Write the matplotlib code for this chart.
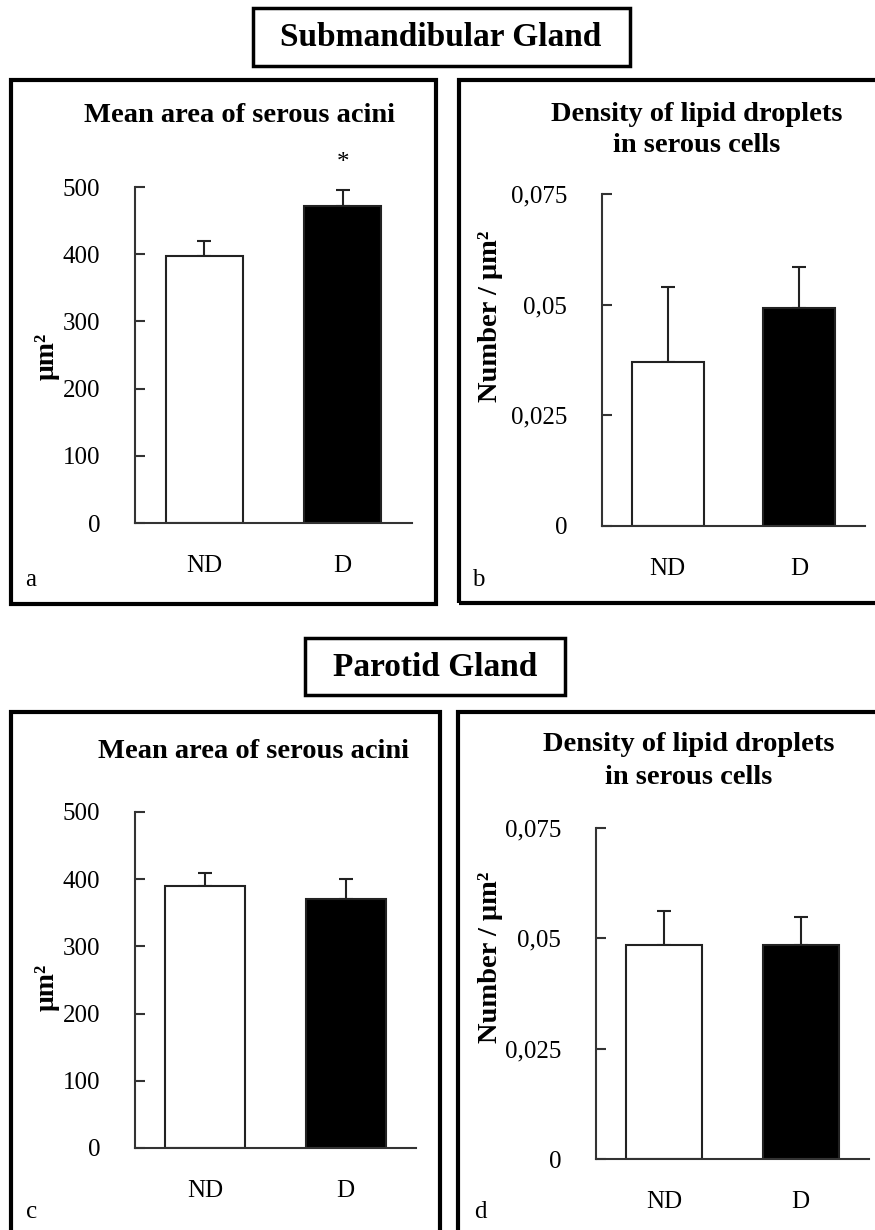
import matplotlib
matplotlib.use('Agg')
import matplotlib.pyplot as plt
from matplotlib.patches import Rectangle

plt.rcParams['font.family'] = ['Liberation Serif', 'DejaVu Serif']

groups = ['ND', 'D']
bar_colors = ['white', 'black']

sub_area = [397, 472]
sub_area_err = [22, 23]
sub_lipid = [0.0371, 0.0492]
sub_lipid_err = [0.0169, 0.0094]

par_area = [390, 370]
par_area_err = [19, 30]
par_lipid = [0.0485, 0.0485]
par_lipid_err = [0.0076, 0.0063]

area_ticks = [0, 100, 200, 300, 400, 500]
area_ticklabels = ['0', '100', '200', '300', '400', '500']
lipid_ticks = [0, 0.025, 0.05, 0.075]
lipid_ticklabels = ['0', '0,025', '0,05', '0,075']

W, H = 875, 1230
fig = plt.figure(figsize=(W / 100, H / 100), dpi=100)


def box(x0, y0, x1, y1, lw):
    r = Rectangle((x0 / W, 1 - y1 / H), (x1 - x0) / W, (y1 - y0) / H,
                  transform=fig.transFigure, fill=False, ec='black', lw=lw)
    fig.add_artist(r)


def ftext(x, y, s, **kw):
    fig.text(x / W, 1 - y / H, s, ha='center', va='center', **kw)


def bar_panel(left, right, top, bottom, vals, errs, ticks, ticklabels, ymax, width):
    ax = fig.add_axes([left / W, 1 - bottom / H, (right - left) / W, (bottom - top) / H])
    x = range(len(groups))
    ax.bar(x, vals, width=width, color=bar_colors, edgecolor='#222222', lw=1.5, zorder=2)
    ax.errorbar(x, vals, yerr=[[0, 0], errs], fmt='none', ecolor='#222222',
                elinewidth=1.5, capsize=5, capthick=1.5, zorder=1)
    ax.set_xlim(-0.5, 1.5)
    ax.set_ylim(0, ymax)
    ax.set_yticks(ticks)
    ax.set_yticklabels(ticklabels)
    ax.set_xticks(list(x))
    ax.set_xticklabels(groups)
    ax.spines['top'].set_visible(False)
    ax.spines['right'].set_visible(False)
    for s in ['left', 'bottom']:
        ax.spines[s].set_color('#333333')
        ax.spines[s].set_linewidth(1.5)
    ax.tick_params(axis='y', direction='in', length=7, width=1.5, color='#333333',
                   labelsize=18, pad=25)
    ax.tick_params(axis='x', length=0, labelsize=18, pad=23)
    ax.patch.set_alpha(0)
    return ax


# group title boxes
box(253, 8, 630, 66, 2.5)
ftext(441, 37, 'Submandibular Gland', fontsize=24, fontweight='bold')
box(305, 638, 565, 695, 2.5)
ftext(435, 668, 'Parotid Gland', fontsize=24, fontweight='bold')

# panel frames
box(11, 80, 436, 604, 3)
box(459, 80, 885, 603, 3)
box(11, 712, 440, 1240, 3)
box(458, 712, 885, 1240, 3)

# a
ax = bar_panel(135, 412, 187, 523, sub_area, sub_area_err, area_ticks, area_ticklabels, 500, 0.555)
ax.annotate('*', xy=(1, sub_area[1] + sub_area_err[1]), xytext=(0, 12),
            textcoords='offset points', ha='center', va='bottom', fontsize=18)
ftext(240, 115, 'Mean area of serous acini', fontsize=20.5, fontweight='bold')
ftext(47, 356, 'μm²', fontsize=20, fontweight='bold', rotation=90)
ftext(31, 580, 'a', fontsize=18)

# b
bar_panel(602, 865, 194, 526, sub_lipid, sub_lipid_err, lipid_ticks, lipid_ticklabels, 0.075, 0.55)
ftext(697, 130, 'Density of lipid droplets\nin serous cells', fontsize=20.5,
      fontweight='bold', linespacing=1.3)
ftext(490, 316, 'Number / μm²', fontsize=20.5, fontweight='bold', rotation=90)
ftext(478, 580, 'b', fontsize=18)

# c
bar_panel(135, 416, 812, 1148, par_area, par_area_err, area_ticks, area_ticklabels, 500, 0.57)
ftext(253, 752, 'Mean area of serous acini', fontsize=20.5, fontweight='bold')
ftext(47, 987, 'μm²', fontsize=20, fontweight='bold', rotation=90)
ftext(32, 1212, 'c', fontsize=18)

# d
bar_panel(596, 869, 828, 1159, par_lipid, par_lipid_err, lipid_ticks, lipid_ticklabels, 0.075, 0.56)
ftext(689, 761, 'Density of lipid droplets\nin serous cells', fontsize=20.5,
      fontweight='bold', linespacing=1.4)
ftext(490, 957, 'Number / μm²', fontsize=20.5, fontweight='bold', rotation=90)
ftext(480, 1212, 'd', fontsize=18)

fig.savefig('out.png', dpi=100)
